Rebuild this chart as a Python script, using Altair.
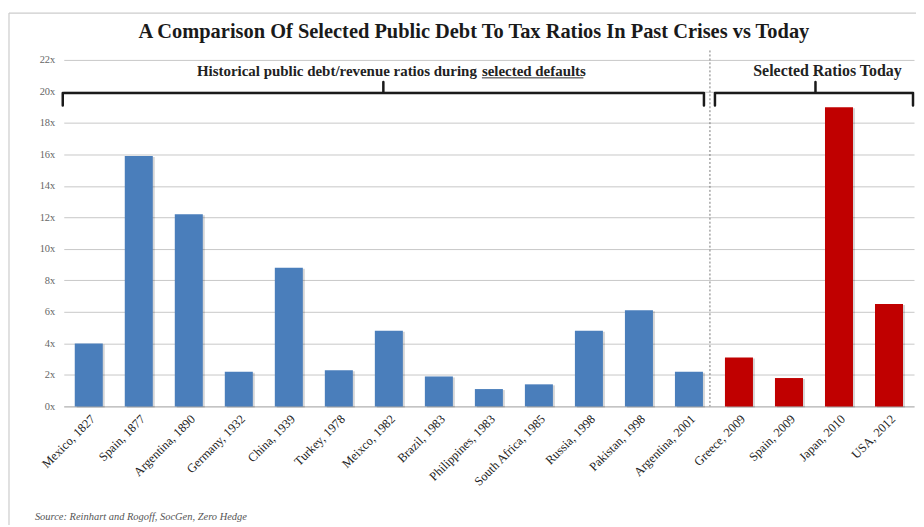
import altair as alt
import pandas as pd

# ---- data ----
categories = [
    "Mexico, 1827", "Spain, 1877", "Argentina, 1890", "Germany, 1932", "China, 1939",
    "Turkey, 1978", "Meixco, 1982", "Brazil, 1983", "Philippines, 1983", "South Africa, 1985",
    "Russia, 1998", "Pakistan, 1998", "Argentina, 2001",
    "Greece, 2009", "Spain, 2009", "Japan, 2010", "USA, 2012",
]
ratios = [4.0, 15.9, 12.2, 2.2, 8.8, 2.3, 4.8, 1.9, 1.1, 1.4, 4.8, 6.1, 2.2,
          3.1, 1.8, 19.0, 6.5]
groups = ["Historical defaults"] * 13 + ["Selected ratios today"] * 4
group_names = ["Historical defaults", "Selected ratios today"]
group_colors = ["#4a7ebb", "#c00000"]
y_ticks = list(range(0, 23, 2))

title_text = "A Comparison Of Selected Public Debt To Tax Ratios In Past Crises vs Today"
hist_text_a = "Historical public debt/revenue ratios during"
hist_text_b = "selected defaults"
today_text = "Selected Ratios Today"
source_text = "Source: Reinhart and Rogoff, SocGen, Zero Hedge"

SERIF = "Liberation Serif"
W, H = 854, 348

bars_df = pd.DataFrame({"label": categories, "ratio": ratios, "group": groups})

yscale = alt.Scale(domain=[0, 22], nice=False, zero=True)
xband = alt.Scale(paddingInner=0.44, paddingOuter=0.22)
# category index scale used to place annotations between the bars
ann_x = alt.Scale(domain=[-0.5, len(categories) - 0.5], nice=False, zero=False)

shadow = alt.Chart(bars_df).mark_bar(color="#000000", opacity=0.16, xOffset=2, yOffset=1).encode(
    x=alt.X("label:N", sort=categories, scale=xband, axis=None),
    y=alt.Y("ratio:Q", scale=yscale, axis=None),
)

bars = alt.Chart(bars_df).mark_bar().encode(
    x=alt.X("label:N", sort=categories, scale=xband,
            axis=alt.Axis(title=None, labelAngle=-45, labelAlign="right", labelBaseline="top",
                          labelFont=SERIF, labelFontSize=12.5, labelColor="#222",
                          ticks=False, domainColor="#b5b5b5", labelPadding=6)),
    y=alt.Y("ratio:Q", scale=yscale,
            axis=alt.Axis(title=None, values=y_ticks, labelExpr="datum.value + 'x'",
                          grid=True, gridColor="#c8c8c8", ticks=False, domain=False,
                          labelFont=SERIF, labelFontSize=10.5, labelColor="#666",
                          labelPadding=9)),
    color=alt.Color("group:N", scale=alt.Scale(domain=group_names, range=group_colors),
                    legend=None),
)

# ---- annotation: brackets over the two groups ----
def bracket_rows(name, x0, xc, x1, y_end=19.1, y_line=19.9, y_tip=20.6):
    pts = [(x0, y_end), (x0, y_line), (xc, y_line), (xc, y_tip), (xc, y_line),
           (x1, y_line), (x1, y_end)]
    return [{"bracket": name, "order": i, "pos": p, "val": v} for i, (p, v) in enumerate(pts)]

br_df = pd.DataFrame(bracket_rows("hist", -0.52, 5.89, 12.30) +
                     bracket_rows("today", 12.52, 14.53, 16.48))

brackets = alt.Chart(br_df).mark_line(
    color="#1a1a1a", strokeWidth=2.5, strokeJoin="round", strokeCap="round"
).encode(
    x=alt.X("pos:Q", scale=ann_x, axis=None),
    y=alt.Y("val:Q", scale=yscale, axis=None),
    detail="bracket:N",
    order="order:Q",
)

divider_df = pd.DataFrame({"pos": [12.42], "top": [22.6], "bottom": [0]})
divider = alt.Chart(divider_df).mark_rule(color="#777", strokeDash=[2, 2], strokeWidth=1).encode(
    x=alt.X("pos:Q", scale=ann_x, axis=None),
    y=alt.Y("top:Q", scale=yscale, axis=None),
    y2="bottom:Q",
)

labels_df = pd.DataFrame({
    "text": [hist_text_a, hist_text_b, today_text],
    "pos": [7.76, 7.86, 14.77],
    "val": [21.0, 21.0, 21.0],
})


def ann_text(row, align, size):
    return alt.Chart(labels_df.iloc[[row]]).mark_text(
        align=align, baseline="alphabetic", font=SERIF, fontSize=size, fontWeight="bold",
        color="#222"
    ).encode(x=alt.X("pos:Q", scale=ann_x, axis=None),
             y=alt.Y("val:Q", scale=yscale, axis=None), text="text:N")


lab_a = ann_text(0, "right", 15)
lab_b = ann_text(1, "left", 15)
lab_c = ann_text(2, "center", 16)

ul_df = pd.DataFrame({"x1": [7.86], "x2": [9.89], "val": [20.86]})
underline = alt.Chart(ul_df).mark_rule(color="#333", strokeWidth=1).encode(
    x=alt.X("x1:Q", scale=ann_x, axis=None), x2="x2:Q",
    y=alt.Y("val:Q", scale=yscale, axis=None),
)

title = alt.Chart(pd.DataFrame({"t": [title_text]})).mark_text(
    align="center", baseline="alphabetic", font=SERIF, fontSize=20.5, fontWeight="bold",
    color="#1a1a1a"
).encode(text="t:N", x=alt.value(412), y=alt.value(-22))

source = alt.Chart(pd.DataFrame({"t": [source_text]})).mark_text(
    align="left", baseline="alphabetic", font=SERIF, fontSize=10.5, fontStyle="italic",
    color="#555"
).encode(text="t:N", x=alt.value(-29), y=alt.value(462))

frame_left = alt.Chart(pd.DataFrame({"a": [0]})).mark_rule(color="#cccccc", strokeWidth=1.2).encode(
    x=alt.value(-55), y=alt.value(-47), y2=alt.value(470))
frame_top = alt.Chart(pd.DataFrame({"a": [0]})).mark_rule(color="#cccccc", strokeWidth=1.2).encode(
    x=alt.value(-55), x2=alt.value(870), y=alt.value(-47))

chart = alt.layer(
    frame_left, frame_top, shadow, bars, divider, brackets, underline,
    lab_a, lab_b, lab_c, title, source
).resolve_scale(x="independent", y="independent").properties(
    width=W, height=H,
    autosize=alt.AutoSizeParams(type="none"),
    padding={"left": 56, "top": 51, "right": 2, "bottom": 118},
    background="white",
).configure_view(stroke=None)

chart.save("out.html", embed_options={"renderer": "svg", "actions": False})
